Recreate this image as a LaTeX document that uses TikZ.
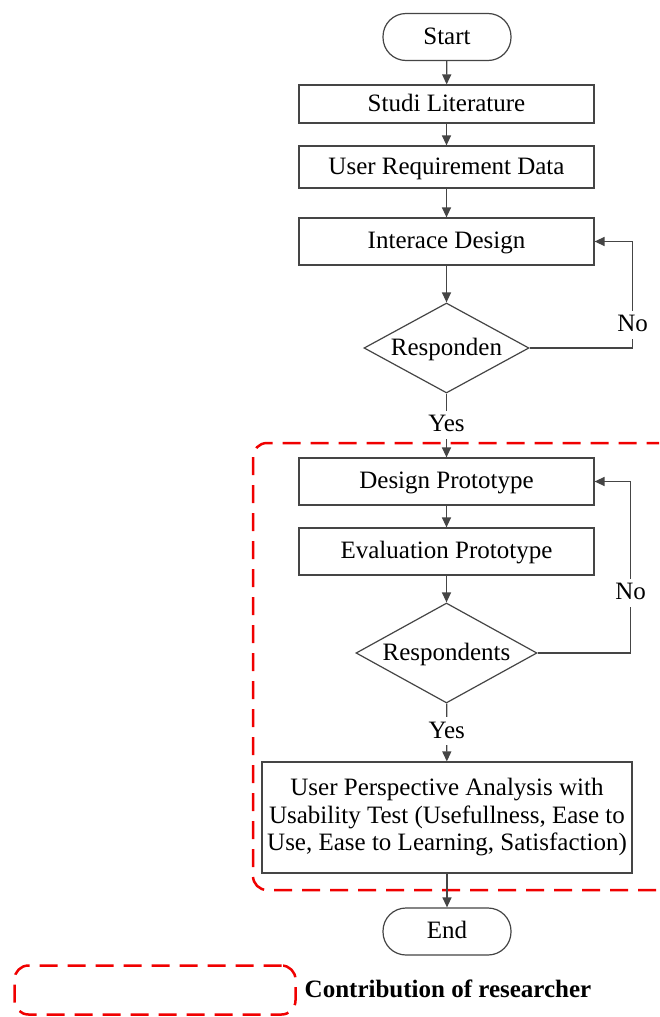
\documentclass[tikz,border=0pt]{standalone}
\usepackage{fontspec}
\setmainfont{Liberation Serif}
\usetikzlibrary{arrows.meta,shapes.geometric}
\definecolor{linegray}{HTML}{454545}
\definecolor{contribred}{HTML}{F00000}

\begin{document}
\begin{tikzpicture}[x=1pt,y=-1pt,
  every node/.style={font=\fontsize{25}{27.5}\selectfont, text=black},
  txt/.style={text height=18pt, text depth=4pt},
  proc/.style={draw=linegray, line width=1.2pt, minimum width=295pt, inner sep=0pt, txt},
  term/.style={draw=linegray, line width=1.2pt, rounded corners=23pt,
               minimum width=128pt, minimum height=47pt, inner sep=0pt, txt},
  decision/.style={draw=linegray, line width=1.2pt, diamond, inner sep=0pt, txt},
  flow/.style={draw=linegray, line width=1.3pt, -{Triangle[length=10pt,width=9pt]}},
  lbl/.style={fill=white, inner sep=3pt, txt},
  contrib/.style={draw=contribred, line width=2.5pt, dash pattern=on 18pt off 10pt,
                  rounded corners=14pt}]

  \clip (0,0) rectangle (659,1017);
  \fill[white] (0,0) rectangle (659,1017);

  % region of the researcher's own contribution
  \draw[contrib] (253,443) rectangle (672,890);

  % flow steps
  \node[term] (start) at (447,37) {Start};
  \node[proc, minimum height=38pt] (studi) at (446.5,104) {Studi Literature};
  \node[proc, minimum height=42pt] (ureq) at (446.5,167) {User Requirement Data};
  \node[proc, minimum height=47pt] (iface) at (446.5,241.5) {Interace Design};
  \node[decision, aspect=1.83, minimum width=165pt, minimum height=90pt] (resp1) at (446.5,348) {Responden};
  \node[proc, minimum height=47pt] (dproto) at (446.5,481.5) {Design Prototype};
  \node[proc, minimum height=47pt] (eproto) at (446.5,551.5) {Evaluation Prototype};
  \node[decision, aspect=1.81, minimum width=181pt, minimum height=100pt] (resp2) at (446.5,653) {Respondents};
  \node[draw=linegray, line width=1.2pt, minimum width=370pt, minimum height=111pt,
        inner sep=0pt, align=center] (upa) at (447,817.5)
    {User Perspective Analysis with\\Usability Test (Usefullness, Ease to\\Use, Ease to Learning, Satisfaction)};
  \node[term] (end) at (447,931.5) {End};

  % connectors
  \draw[flow] (start) -- (studi);
  \draw[flow] (studi) -- (ureq);
  \draw[flow] (ureq) -- (iface);
  \draw[flow] (iface) -- (resp1);
  \draw[flow] (resp1.east) -- ++(103,0) |- node[lbl, pos=0.11] {No} (iface.east);
  \draw[flow] (resp1) -- node[lbl, pos=0.49] {Yes} (dproto);
  \draw[flow] (dproto) -- (eproto);
  \draw[flow] (eproto) -- (resp2);
  \draw[flow] (resp2.east) -- ++(93,0) |- node[lbl, pos=0.175] {No} (dproto.east);
  \draw[flow] (resp2) -- node[lbl, pos=0.475] {Yes} (upa);
  \draw[flow] (upa) -- (end);

  % legend
  \node[contrib, minimum width=281pt, minimum height=49pt, inner sep=0pt] (legendbox) at (155,990) {};
  \node[font=\fontsize{25}{27.5}\selectfont\bfseries, txt] (legendtext) at (448,990) {Contribution of researcher};
\end{tikzpicture}
\end{document}
